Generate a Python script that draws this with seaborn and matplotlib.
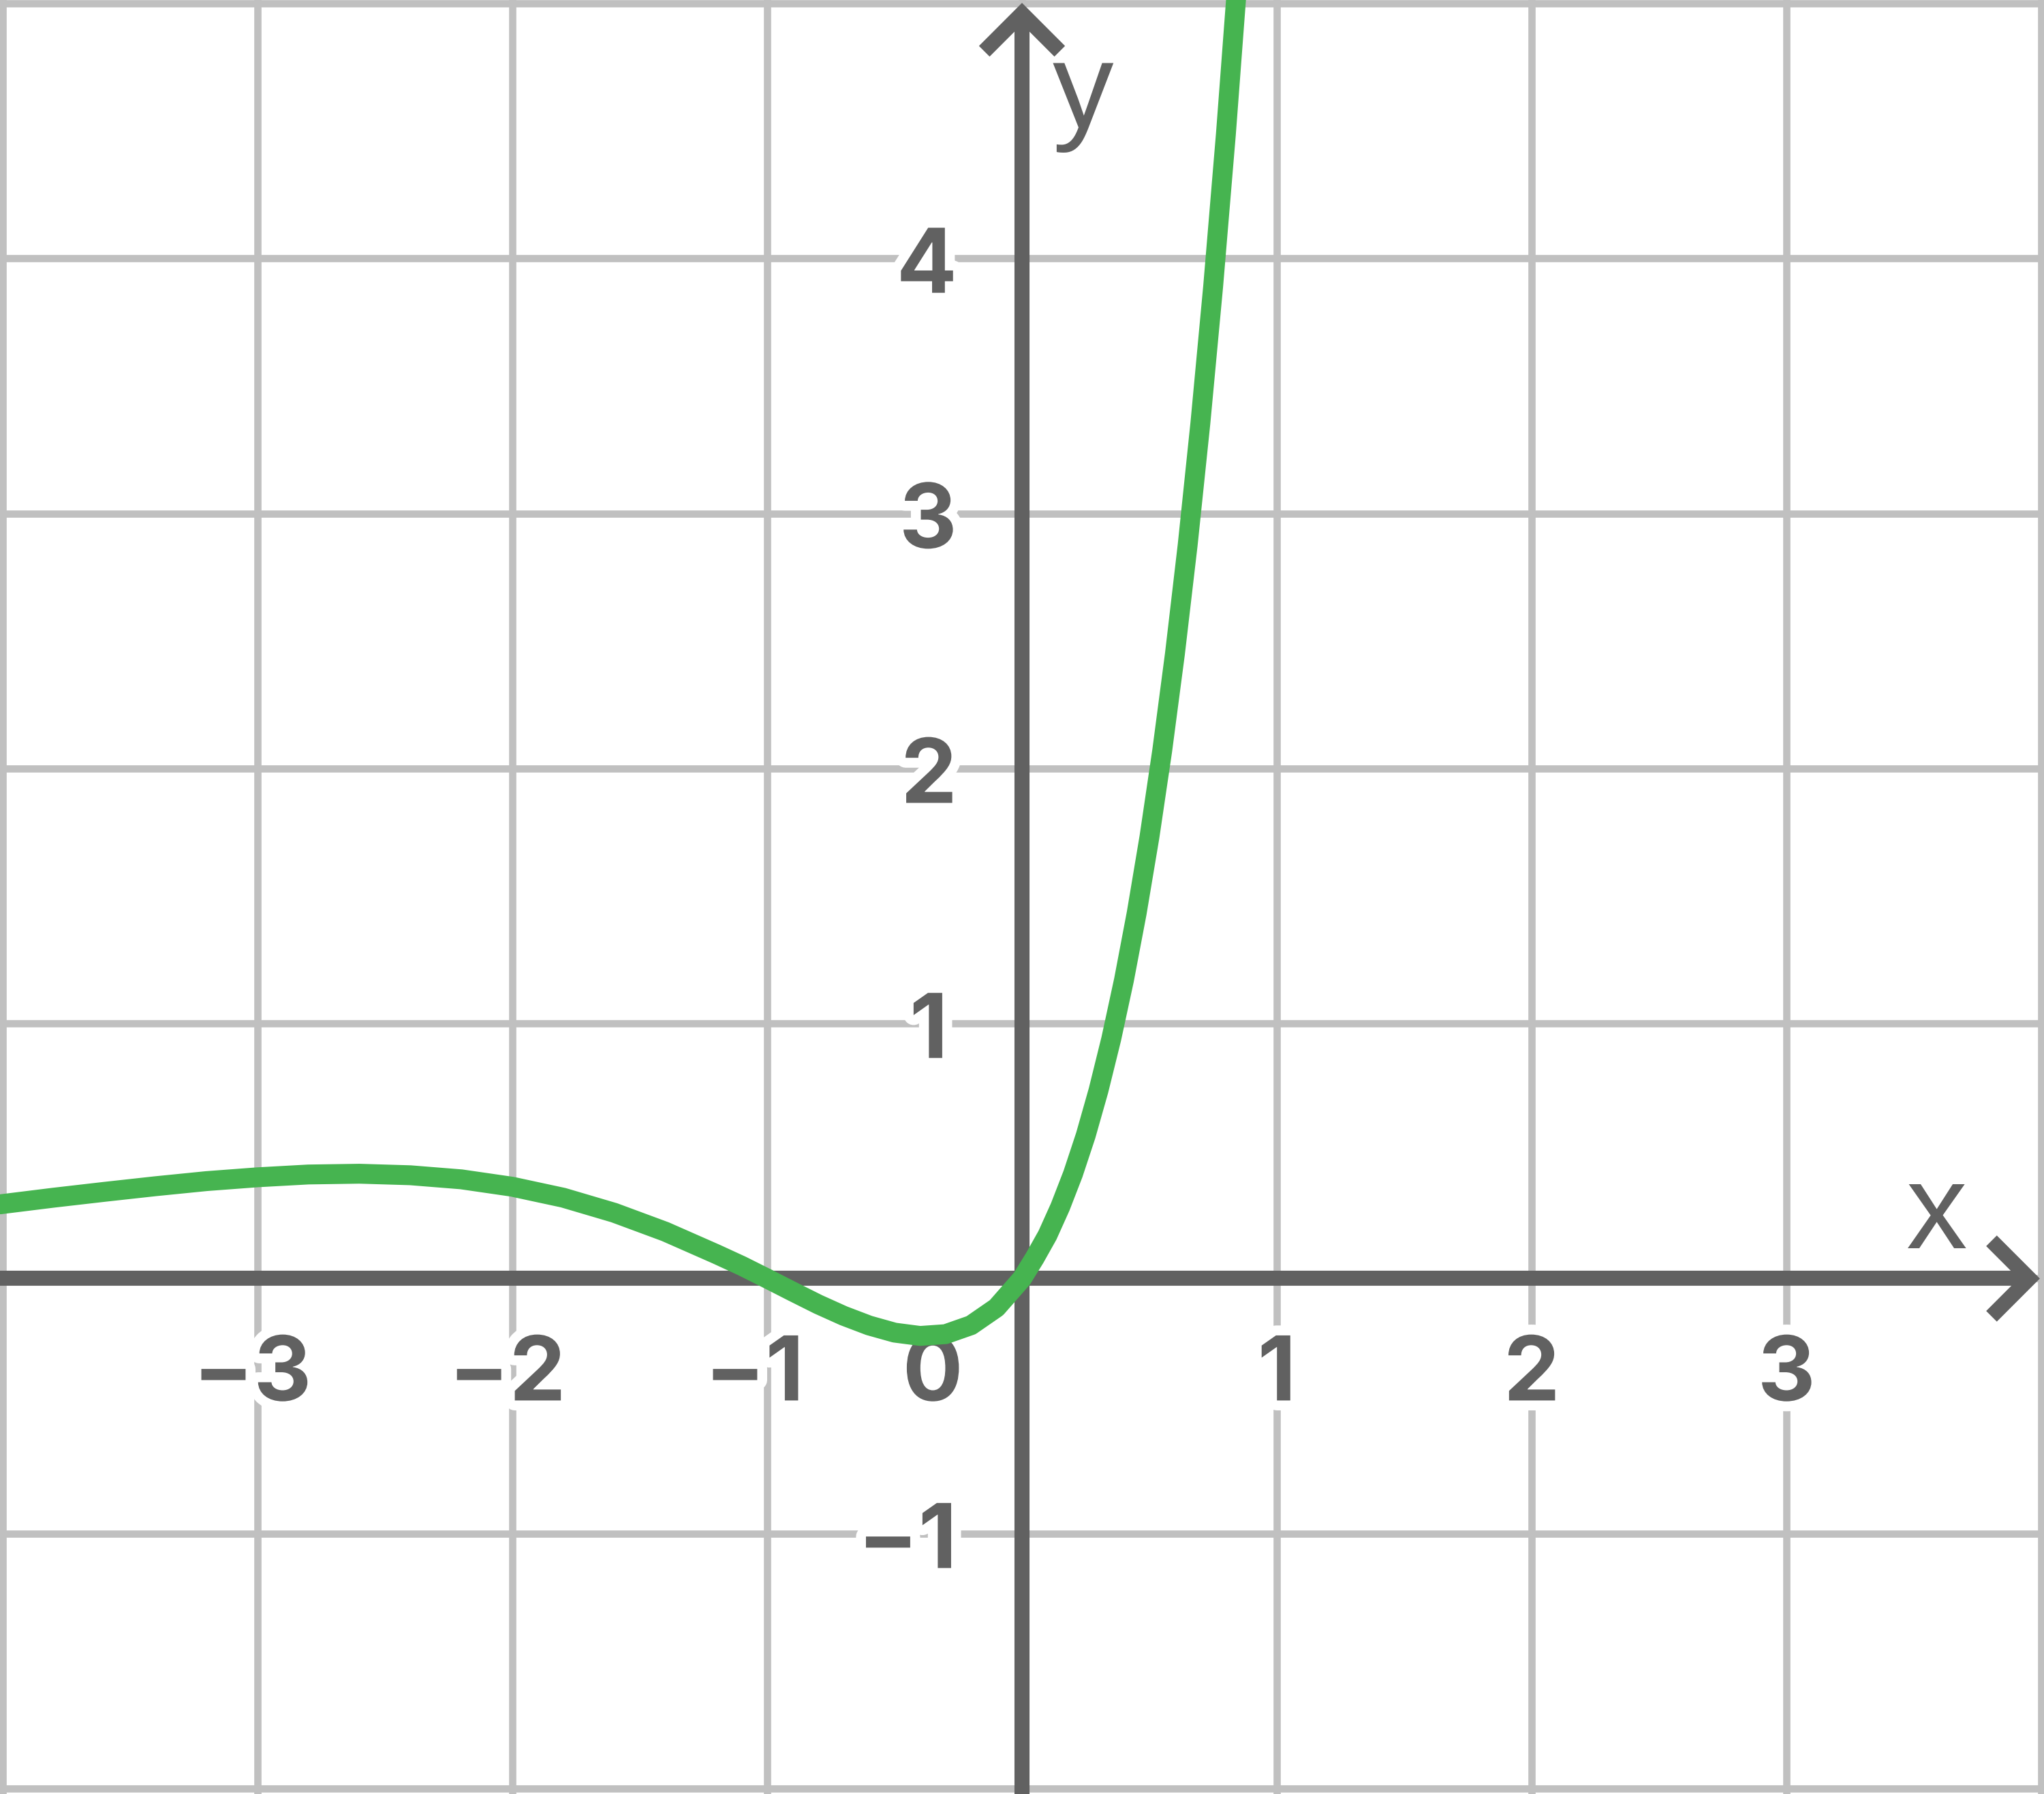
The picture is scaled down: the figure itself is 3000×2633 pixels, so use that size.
import matplotlib as mpl
mpl.use('Agg')
import matplotlib.pyplot as plt
import matplotlib.patheffects as pe
import numpy as np
import seaborn as sns

# curve points (estimated where the line is thick)
curve_x = [-4.01, -3.8, -3.6, -3.4, -3.2, -3.0, -2.8, -2.6, -2.4, -2.2, -2.0, -1.8,
           -1.6, -1.4, -1.2, -1.1, -1.0, -0.9, -0.8, -0.7, -0.6, -0.5, -0.4, -0.3,
           -0.2, -0.1, 0.0, 0.05, 0.1, 0.15, 0.2, 0.25, 0.3, 0.35, 0.4, 0.45, 0.5,
           0.55, 0.6, 0.65, 0.7, 0.75, 0.8, 0.85]
curve_y = [0.291, 0.317, 0.340, 0.362, 0.382, 0.397, 0.408, 0.411, 0.405, 0.389, 0.360, 0.317,
           0.258, 0.184, 0.096, 0.050, 0.0, -0.051, -0.101, -0.146, -0.184, -0.212, -0.225, -0.218,
           -0.183, -0.114, 0.0, 0.081, 0.170, 0.281, 0.410, 0.561, 0.737, 0.939, 1.170, 1.433, 1.731,
           2.069, 2.449, 2.876, 3.355, 3.890, 4.487, 5.151]

x_ticks = [-3, -2, -1, 1, 2, 3]
y_ticks = [4, 3, 2, 1, -1]

green = '#46b450'
dark = '#616161'
light = '#c0c0c0'

sns.set_theme(style='white')
plt.rcParams['font.family'] = ['Liberation Sans', 'DejaVu Sans']

fig = plt.figure(figsize=(10, 2633 / 300), dpi=300)
ax = fig.add_axes([0, 0, 1, 1])
ax.set_xlim(-4.01, 4.01)
ax.set_ylim(-2.021, 5.013)
for s in ax.spines.values():
    s.set_visible(False)

# grid
for gx in range(-4, 5):
    ax.axvline(gx, color=light, lw=2.55, zorder=1)
for gy in range(-2, 6):
    ax.axhline(gy, color=light, lw=2.55, zorder=1)
ax.set_xticks([])
ax.set_yticks([])

# axes with open arrowheads
tip_x, tip_y, arm = 3.952, 4.96, 0.148
ax_kw = dict(color=dark, lw=5.3, solid_capstyle='butt', zorder=3)
ax.plot([-4.02, tip_x], [0, 0], **ax_kw)
ax.plot([0, 0], [-2.03, tip_y], **ax_kw)
ax.plot([tip_x - arm, tip_x, tip_x - arm], [arm, 0, -arm], solid_joinstyle='miter', **ax_kw)
ax.plot([-arm, 0, arm], [tip_y - arm, tip_y, tip_y - arm], solid_joinstyle='miter', **ax_kw)

# tick labels with white halo
halo = [pe.withStroke(linewidth=7, foreground='white')]
lab_kw = dict(fontsize=31.5, fontweight='bold', color=dark, zorder=4, path_effects=halo,
              family=['Inter', 'Liberation Sans', 'DejaVu Sans'])
for v in x_ticks:
    txt = ('\u2212' + str(-v)) if v < 0 else str(v)
    nudge = -0.05 if v == -1 else (-0.02 if v < 0 else 0.0)
    ax.text(v + nudge, -0.478, txt, ha='center', va='baseline', **lab_kw)
ax.text(-0.35, -0.478, '0', ha='center', va='baseline', **lab_kw)
for v in y_ticks:
    txt = ('\u2212' + str(-v)) if v < 0 else str(v)
    xpos = -0.29 if v == 1 else -0.255
    ax.text(xpos, v - 0.135, txt, ha='right', va='baseline', **lab_kw)

# axis names
ax.text(3.59, 0.118, 'x', ha='center', va='baseline', fontsize=43, color=dark, zorder=4)
ax.text(0.12, 4.513, 'y', ha='left', va='baseline', fontsize=43, color=dark, zorder=4)

# the function curve
sns.lineplot(x=curve_x, y=curve_y, sort=False, estimator=None, color=green,
             linewidth=7.0, ax=ax, zorder=5)
ax.set_xlabel('')
ax.set_ylabel('')

fig.savefig('out.png', dpi=300)
